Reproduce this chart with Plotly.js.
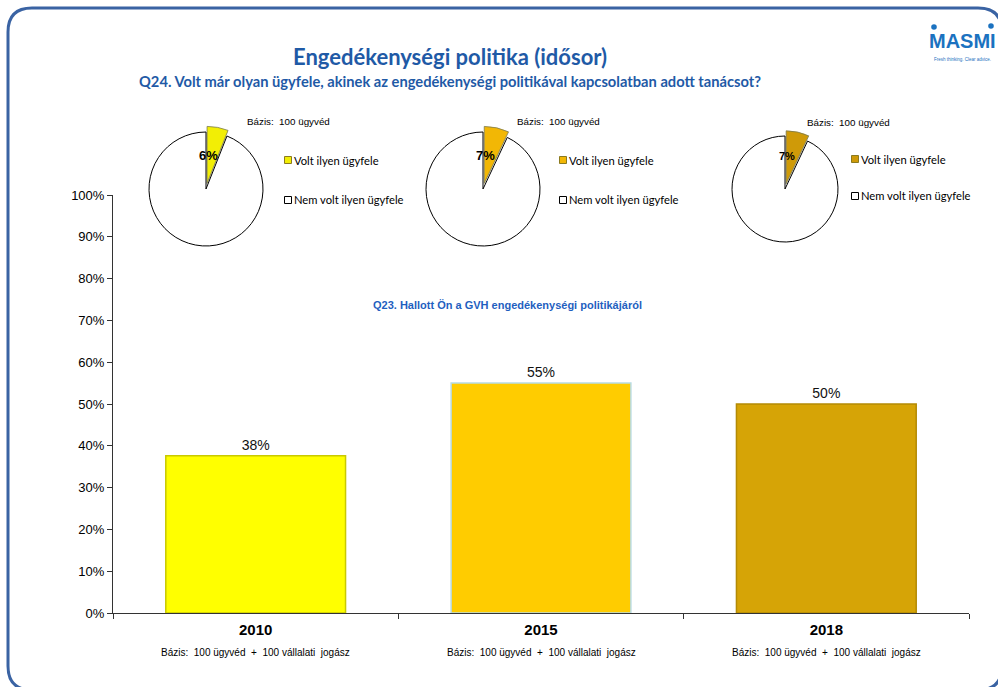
<!DOCTYPE html>
<html>
<head>
<meta charset="utf-8">
<script src="https://cdn.plot.ly/plotly-3.0.1.min.js"></script>
<style>html,body{margin:0;padding:0;background:#fff}#chart{width:998px;height:687px}</style>
</head>
<body>
<div id="chart"></div>
<script>
// ---- data ----
const years = ['2010', '2015', '2018'];
const heardPct = [37.6, 55, 50];            // Q23: Hallott Ön a GVH engedékenységi politikájáról
const pieYes = [6, 7, 7];                   // Q24: Volt ilyen ügyfele
const pieNo = [94, 93, 93];                 // Q24: Nem volt ilyen ügyfele
const pieLabels = ['Volt ilyen ügyfele', 'Nem volt ilyen ügyfele'];
const pieBase = 'Bázis:  100 ügyvéd';
const barBase = 'Bázis:  100 ügyvéd  +  100 vállalati  jogász';
const titleText = 'Engedékenységi politika (idősor)';
const q24Text = 'Q24. Volt már olyan ügyfele, akinek az engedékenységi politikával kapcsolatban adott tanácsot?';
const q23Text = 'Q23. Hallott Ön a GVH engedékenységi politikájáról';

// ---- styles ----
const W = 998, H = 687;
const px = x => x / W;
const py = y => 1 - y / H;
const barColors = ['#ffff00', '#ffcc00', '#d6a406'];
const barLines = ['#c9c900', '#b8dbe3', '#b48a05'];
const pieColors = ['#f2ee05', '#f2b705', '#cf9a08'];
const pieGeom = [ {cx: 206, cy: 189, r: 57}, {cx: 483, cy: 189, r: 57}, {cx: 785, cy: 189, r: 53} ];
const pull = 0.1;
const blue = '#1f5aa6';
const baseFont = 'Liberation Sans, Arial, sans-serif';
const calFont = 'Lato, Open Sans, sans-serif';

const traces = [];
traces.push({
  type: 'bar', x: years, y: heardPct,
  marker: {color: barColors, line: {color: barLines, width: 1.5}},
  texttemplate: '%{y:.0f}%', textposition: 'outside',
  textfont: {family: baseFont, size: 14, color: '#111'},
  cliponaxis: false, width: 0.63, showlegend: false, hoverinfo: 'skip'
});

const annotations = [];
const shapes = [];
function note(x, y, text, font, opts) {
  annotations.push(Object.assign({xref: 'paper', yref: 'paper', x: x, y: y, text: text, showarrow: false,
    xanchor: 'center', yanchor: 'middle', font: font}, opts || {}));
}

pieGeom.forEach((g, i) => {
  const half = g.r * (1 + pull);
  traces.push({
    type: 'pie', values: [pieYes[i], pieNo[i]], labels: pieLabels,
    sort: false, direction: 'clockwise', rotation: 0,
    pull: [pull, 0], textinfo: 'none', showlegend: false, hoverinfo: 'skip',
    marker: {colors: [pieColors[i], '#ffffff'], line: {color: ['#7a7a50', '#000000'], width: [0.8, 1]}},
    domain: {x: [px(g.cx - half), px(g.cx + half)], y: [py(g.cy + half), py(g.cy - half)]}
  });
  // percentage label
  note(px(g.cx + 2), py(g.cy - 33), '<b>' + pieYes[i] + '%</b>',
    {family: baseFont, size: i === 2 ? 11 : 13, color: '#000'});
  // base label
  const bx = [288, 558, 848][i], by = [121, 121, 122][i];
  note(px(bx), py(by), pieBase, {family: baseFont, size: 9.8, color: '#000'});
  // legend entries
  const lx = [288, 563, 855][i];
  const ly = i === 2 ? [159, 196] : [160, 200];
  pieLabels.forEach((lab, k) => {
    shapes.push({type: 'rect', xref: 'paper', yref: 'paper',
      x0: px(lx - 3.5), x1: px(lx + 3.5), y0: py(ly[k] + 3.5), y1: py(ly[k] - 3.5),
      fillcolor: k === 0 ? pieColors[i] : '#ffffff', line: {color: k === 0 ? '#8a7a20' : '#000', width: 1}});
    note(px(lx + 4), py(ly[k]), lab, {family: calFont, size: 11.2, color: '#000'}, {xanchor: 'left'});
  });
});

// bottom base labels (category index positions)
years.forEach((yr, i) => {
  note(i, py(652), barBase, {family: baseFont, size: 10, color: '#000'}, {xref: 'x'});
});

// titles
note(px(450), py(57), '<b>' + titleText + '</b>', {family: calFont, size: 22, color: blue});
note(px(450), py(81), '<b>' + q24Text + '</b>', {family: calFont, size: 14.7, color: blue});
note(px(508), py(305), '<b>' + q23Text + '</b>', {family: baseFont, size: 11, color: '#1f5fbf'});

// logo
note(px(962), py(41), '<b>MASMI</b>', {family: baseFont, size: 20, color: '#1b72c0'});
note(px(962), py(60), 'Fresh thinking. Clear advice.', {family: baseFont, size: 4.5, color: '#1b72c0'});
[[934, 27], [991, 26]].forEach(d => {
  shapes.push({type: 'circle', xref: 'paper', yref: 'paper', x0: px(d[0] - 2.8), x1: px(d[0] + 2.8),
    y0: py(d[1] + 2.8), y1: py(d[1] - 2.8), fillcolor: '#1b72c0', line: {width: 0}});
});

// frame
const P = (x, y) => px(x).toFixed(5) + ',' + py(y).toFixed(5);
shapes.push({type: 'path', xref: 'paper', yref: 'paper', layer: 'below',
  path: 'M' + P(8, 32) + ' Q' + P(8, 8) + ' ' + P(32, 8) + ' L' + P(978, 8) + ' Q' + P(1002, 8) + ' ' + P(1002, 32) +
        ' L' + P(1002, 666) + ' Q' + P(1002, 690) + ' ' + P(978, 690) + ' L' + P(32, 690) + ' Q' + P(8, 690) + ' ' + P(8, 666) + ' Z',
  line: {color: '#3a63a3', width: 3}});

const layout = {
  width: W, height: H, margin: {l: 0, r: 0, t: 0, b: 0},
  paper_bgcolor: '#ffffff', plot_bgcolor: 'rgba(0,0,0,0)', showlegend: false,
  xaxis: {domain: [px(113), px(969)], type: 'category', range: [-0.5, 2.5], tickson: 'boundaries',
    ticks: 'outside', ticklen: 5, tickcolor: '#333', showline: true, linecolor: '#333', linewidth: 1,
    showgrid: false, zeroline: false, automargin: false, ticklabelstandoff: 3,
    tickfont: {family: baseFont, size: 15, color: '#000', weight: 'bold'}},
  yaxis: {domain: [py(613), py(195)], range: [0, 100], dtick: 10, ticksuffix: '%',
    ticks: 'outside', ticklen: 5, tickcolor: '#333', showline: true, linecolor: '#333', linewidth: 1,
    showgrid: false, zeroline: false, automargin: false,
    tickfont: {family: baseFont, size: 13, color: '#000'}},
  annotations: annotations, shapes: shapes
};

Plotly.newPlot('chart', traces, layout, {displayModeBar: false, staticPlot: true});
</script>
</body>
</html>
